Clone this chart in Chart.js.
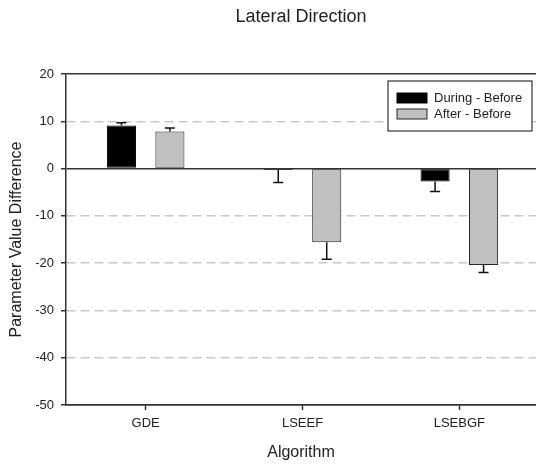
<!DOCTYPE html>
<html lang="en">
<head>
    <meta charset="UTF-8">
    <title>Lateral Direction</title>
    <script src="https://cdn.jsdelivr.net/npm/chart.js"></script>
    <style>
        body {
            margin: 0;
            background: #fff;
        }
        #wrap {
            width: 536px;
            height: 465px;
        }
    </style>
</head>
<body>
    <div id="wrap"><canvas id="chartCanvas" width="536" height="465"></canvas></div>

    <script>
        // values
        var categories = ['GDE', 'LSEEF', 'LSEBGF'];
        var seriesNames = ['During - Before', 'After - Before'];
        var duringBefore = [9.1, -0.3, -2.75];
        var duringErr = [0.6, 2.65, 2.1];
        var afterBefore = [7.85, -15.6, -20.4];
        var afterErr = [0.75, 3.6, 1.6];
        var yTickValues = [-50, -40, -30, -20, -10, 0, 10, 20];
        var chartTitle = 'Lateral Direction';

        var fontFamily = "Arial, 'Liberation Sans', sans-serif";
        var dark = '#333';

        function toPoints(values) {
            return values.map(function(v, i) { return { x: i, y: v }; });
        }

        // one-sided error bars, pointing away from zero
        var errorBars = {
            id: 'errorBars',
            afterDatasetsDraw: function(chart) {
                var ctx = chart.ctx;
                var yScale = chart.scales.y;
                var errs = [duringErr, afterErr];
                chart.data.datasets.forEach(function(ds, d) {
                    var meta = chart.getDatasetMeta(d);
                    meta.data.forEach(function(bar, i) {
                        var v = ds.data[i].y;
                        var end = v >= 0 ? v + errs[d][i] : v - errs[d][i];
                        var y0 = yScale.getPixelForValue(v);
                        var y1 = yScale.getPixelForValue(end);
                        ctx.save();
                        ctx.strokeStyle = '#111';
                        ctx.lineWidth = 1.5;
                        ctx.beginPath();
                        ctx.moveTo(bar.x, y0);
                        ctx.lineTo(bar.x, y1);
                        ctx.moveTo(bar.x - 5, y1);
                        ctx.lineTo(bar.x + 5, y1);
                        ctx.stroke();
                        ctx.restore();
                    });
                });
            }
        };

        // title centred over the plot, and boxed legend in the upper right
        var decorations = {
            id: 'decorations',
            afterDraw: function(chart) {
                var ctx = chart.ctx;
                var area = chart.chartArea;
                ctx.save();
                ctx.fillStyle = '#222';
                ctx.font = '18px ' + fontFamily;
                ctx.textAlign = 'center';
                ctx.textBaseline = 'middle';
                ctx.fillText(chartTitle, (area.left + area.right) / 2, 17);

                var bx = area.right - 148, by = area.top + 7, bw = 144, bh = 50;
                ctx.fillStyle = '#fff';
                ctx.fillRect(bx, by, bw, bh);
                ctx.strokeStyle = dark;
                ctx.lineWidth = 1.2;
                ctx.strokeRect(bx, by, bw, bh);

                ctx.font = '13px ' + fontFamily;
                ctx.textAlign = 'left';
                chart.data.datasets.forEach(function(ds, d) {
                    var sy = by + 12 + d * 16;
                    ctx.fillStyle = ds.backgroundColor;
                    ctx.fillRect(bx + 9, sy, 30, 10);
                    ctx.strokeStyle = ds.borderColor;
                    ctx.lineWidth = 1;
                    ctx.strokeRect(bx + 9, sy, 30, 10);
                    ctx.fillStyle = '#222';
                    ctx.fillText(ds.label, bx + 46, sy + 5);
                });
                ctx.restore();
            }
        };

        var ctx = document.getElementById('chartCanvas').getContext('2d');
        var myChart = new Chart(ctx, {
            type: 'bar',
            data: {
                datasets: [{
                    label: seriesNames[0],
                    data: toPoints(duringBefore),
                    backgroundColor: '#000000',
                    borderColor: '#000000',
                    borderWidth: 1,
                    borderSkipped: false
                }, {
                    label: seriesNames[1],
                    data: toPoints(afterBefore),
                    backgroundColor: '#c0c0c0',
                    borderColor: '#262626',
                    borderWidth: 1,
                    borderSkipped: false
                }]
            },
            options: {
                responsive: false,
                animation: false,
                categoryPercentage: 0.618,
                barPercentage: 0.6,
                layout: { padding: { top: 74, right: 0, left: 0, bottom: 0 } },
                plugins: {
                    legend: { display: false },
                    tooltip: { enabled: false }
                },
                scales: {
                    x: {
                        type: 'linear',
                        offset: false,
                        min: -0.508,
                        max: 2.489,
                        afterBuildTicks: function(scale) {
                            scale.ticks = categories.map(function(c, i) { return { value: i }; });
                        },
                        afterFit: function(scale) { scale.height = 60; },
                        ticks: {
                            padding: 6,
                            color: '#222',
                            font: { family: fontFamily, size: 13 },
                            maxRotation: 0,
                            autoSkip: false,
                            callback: function(v) { return categories[v]; }
                        },
                        grid: {
                            offset: false,
                            drawOnChartArea: false,
                            drawTicks: true,
                            tickLength: 5,
                            tickColor: dark,
                            tickWidth: 1.5
                        },
                        border: { display: true, color: dark, width: 1.5 },
                        title: {
                            display: true,
                            text: 'Algorithm',
                            color: '#222',
                            font: { family: fontFamily, size: 16 },
                            padding: { top: 0, bottom: 3 }
                        }
                    },
                    y: {
                        min: -50,
                        max: 20,
                        afterBuildTicks: function(scale) {
                            scale.ticks = yTickValues.map(function(v) { return { value: v }; });
                        },
                        afterFit: function(scale) { scale.width = 66; },
                        ticks: {
                            padding: 7,
                            color: '#222',
                            font: { family: fontFamily, size: 13 }
                        },
                        grid: {
                            color: function(c) {
                                if (!c.tick) return '#c8c8c8';
                                var v = c.tick.value;
                                return (v === 0 || v === 20 || v === -50) ? dark : '#c8c8c8';
                            },
                            lineWidth: 1.5,
                            tickLength: 5,
                            tickColor: dark,
                            tickWidth: 1.5,
                            tickBorderDash: []
                        },
                        border: {
                            display: true,
                            color: dark,
                            width: 1.5,
                            dash: function(c) {
                                if (!c.tick) return [];
                                var v = c.tick.value;
                                return (v === 0 || v === 20 || v === -50) ? [] : [9, 5];
                            }
                        },
                        title: {
                            display: true,
                            text: 'Parameter Value Difference',
                            color: '#222',
                            font: { family: fontFamily, size: 16 },
                            padding: { top: 7, bottom: 0 }
                        }
                    }
                }
            },
            plugins: [errorBars, decorations]
        });
    </script>
</body>
</html>
